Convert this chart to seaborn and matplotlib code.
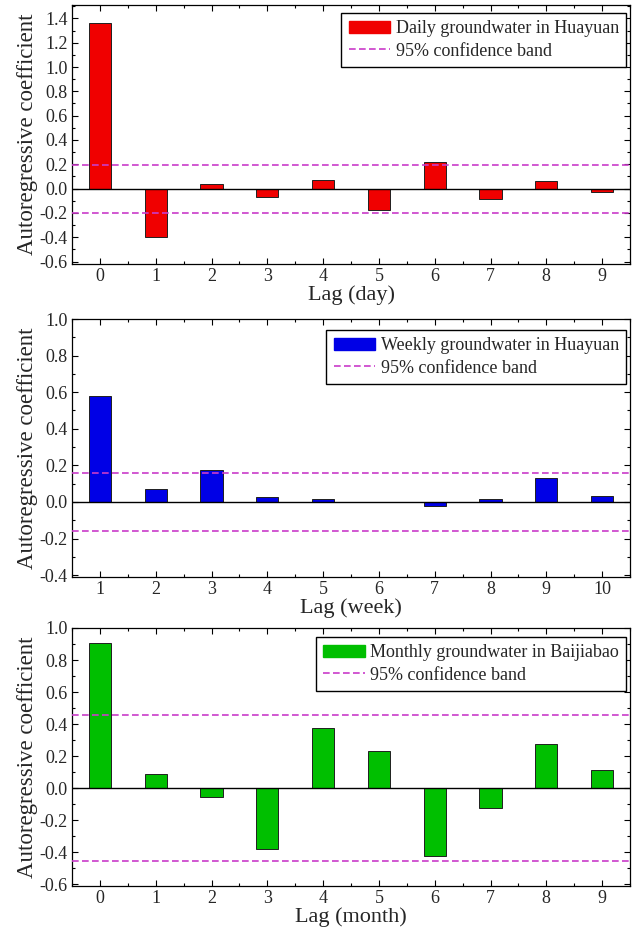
import numpy as np
import pandas as pd
import matplotlib
matplotlib.use("Agg")
import matplotlib.pyplot as plt
import seaborn as sns
from matplotlib.patches import Patch
from matplotlib.lines import Line2D
from matplotlib.ticker import AutoMinorLocator

# ---- data ----
daily_lags = [0, 1, 2, 3, 4, 5, 6, 7, 8, 9]
daily_vals = [1.36, -0.40, 0.04, -0.07, 0.068, -0.177, 0.22, -0.084, 0.06, -0.027]
daily_band = 0.198

weekly_lags = [1, 2, 3, 4, 5, 6, 7, 8, 9, 10]
weekly_vals = [0.58, 0.071, 0.175, 0.027, 0.015, 0.0, -0.02, 0.018, 0.13, 0.031]
weekly_band = 0.16

monthly_lags = [0, 1, 2, 3, 4, 5, 6, 7, 8, 9]
monthly_vals = [0.905, 0.087, -0.056, -0.379, 0.375, 0.235, -0.42, -0.125, 0.279, 0.112]
monthly_band = 0.455

sns.set_theme(style="white")
plt.rcParams["font.family"] = ["Liberation Serif", "DejaVu Serif"]
plt.rcParams["mathtext.fontset"] = "stix"

fig = plt.figure(figsize=(6.33, 9.30), dpi=100)

band_color = "#C93BC9"

panels = [
    dict(lags=daily_lags, vals=daily_vals, band=daily_band, color="#F00000",
         label="Daily groundwater in Huayuan", xlabel="Lag (day)",
         ylim=(-0.62, 1.51), yticks=np.arange(-0.6, 1.41, 0.2),
         pos=[72/633, 1-264/930, 558/633, 259/930], legtop=8),
    dict(lags=weekly_lags, vals=weekly_vals, band=weekly_band, color="#0000E6",
         label="Weekly groundwater in Huayuan", xlabel="Lag (week)",
         ylim=(-0.41, 1.0), yticks=np.arange(-0.4, 1.01, 0.2),
         pos=[72/633, 1-577/930, 558/633, 258/930], legtop=11),
    dict(lags=monthly_lags, vals=monthly_vals, band=monthly_band, color="#00BF00",
         label="Monthly groundwater in Baijiabao", xlabel="Lag (month)",
         ylim=(-0.61, 1.0), yticks=np.arange(-0.6, 1.01, 0.2),
         pos=[72/633, 1-886/930, 558/633, 258/930], legtop=9),
]

for p in panels:
    ax = fig.add_axes(p["pos"])
    order = [str(l) for l in p["lags"]]
    df = pd.DataFrame({"lag": order, "val": p["vals"]})
    sns.barplot(data=df, x="lag", y="val", color=p["color"], width=0.4,
                edgecolor="#202020", linewidth=0.7, saturation=1, ax=ax,
                order=order)
    ax.axhline(0, color="black", lw=1.0, zorder=3)
    ax.axhline(p["band"], color=band_color, lw=1.2, ls=(0, (4, 2)), zorder=4)
    ax.axhline(-p["band"], color=band_color, lw=1.2, ls=(0, (4, 2)), zorder=4)
    ax.set_xlim(-0.5, len(p["lags"]) - 0.5)
    ax.set_ylim(*p["ylim"])
    ax.set_yticks(p["yticks"])
    ax.set_yticklabels([f"{v:.1f}" for v in p["yticks"]])
    ax.yaxis.set_minor_locator(AutoMinorLocator(2))
    ax.xaxis.set_minor_locator(AutoMinorLocator(2))
    ax.tick_params(which="both", direction="in", top=True, right=True,
                   bottom=True, left=True, labeltop=False, labelright=False,
                   color="black")
    ax.tick_params(which="major", length=4, width=0.8, labelsize=13, pad=3)
    ax.tick_params(which="minor", length=2.5, width=0.8)
    for s in ax.spines.values():
        s.set_color("black")
        s.set_linewidth(0.9)
    ax.set_xlabel(p["xlabel"], fontsize=16, labelpad=0)
    ax.set_ylabel("Autoregressive coefficient", fontsize=16.5, labelpad=1)
    handles = [Patch(facecolor=p["color"], edgecolor=p["color"], label=p["label"]),
               Line2D([0], [0], color=band_color, lw=1.2, ls=(0, (4, 2)),
                      label="95% confidence band")]
    h_ax = p["pos"][3] * 930
    leg = ax.legend(handles=handles, loc="upper right", fontsize=13,
                    frameon=True, fancybox=False, edgecolor="black",
                    framealpha=1, borderpad=0.4, handlelength=2.3,
                    handletextpad=0.3, labelspacing=0.3, borderaxespad=0,
                    bbox_to_anchor=(1 - 4/558, 1 - p["legtop"]/h_ax))
    leg.get_frame().set_linewidth(1.0)

fig.savefig("out.png", dpi=100)
